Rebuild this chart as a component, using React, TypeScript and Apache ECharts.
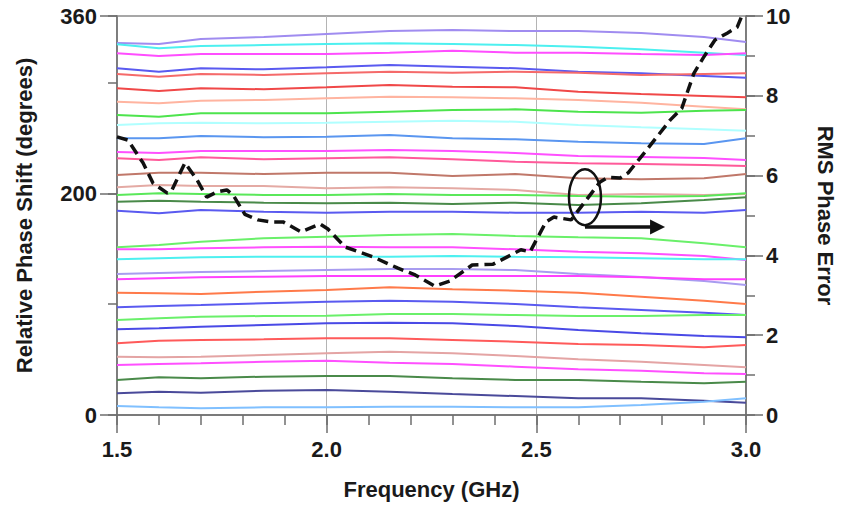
import React, { useEffect, useRef } from "react";
import * as echarts from "echarts";

// Frequencies (GHz) at which each phase state is sampled
const freqGHz = [1.5, 1.6, 1.7, 1.85, 2.0, 2.15, 2.3, 2.45, 2.6, 2.75, 2.9, 3.0];

// Relative phase shift (degrees) of each of the 32 phase states, top to bottom
const phaseStates: number[][] = [
  [335.6, 334.7, 339.2, 341.0, 343.7, 346.4, 347.3, 346.4, 346.4, 344.6, 341.0, 336.5],
  [334.5, 330.9, 333.0, 333.8, 334.7, 335.4, 334.7, 333.8, 332.3, 330.0, 326.9, 324.7],
  [326.3, 323.9, 325.7, 325.7, 325.7, 326.9, 328.7, 326.9, 326.9, 325.7, 324.8, 326.3],
  [312.8, 309.8, 312.8, 311.9, 313.7, 315.8, 314.3, 312.8, 309.8, 308.3, 305.9, 304.3],
  [307.7, 305.2, 307.7, 306.8, 308.3, 309.8, 308.9, 309.8, 308.9, 306.8, 307.7, 308.3],
  [294.8, 292.3, 294.8, 293.9, 295.7, 297.8, 296.2, 295.7, 291.7, 289.6, 287.8, 286.6],
  [282.7, 281.2, 283.6, 284.2, 285.7, 287.2, 286.6, 285.7, 284.2, 281.8, 278.2, 275.8],
  [270.7, 269.2, 272.2, 272.2, 272.2, 273.7, 275.2, 275.8, 273.7, 272.8, 274.6, 275.2],
  [261.7, 263.2, 263.7, 263.2, 263.7, 264.6, 265.5, 264.6, 261.7, 259.6, 257.8, 256.5],
  [249.7, 249.7, 251.7, 250.6, 251.1, 252.6, 249.7, 248.7, 246.6, 245.1, 244.5, 249.7],
  [237.3, 236.4, 238.2, 238.2, 238.2, 239.1, 238.2, 236.4, 233.7, 232.8, 231.9, 230.1],
  [231.6, 230.1, 232.5, 230.7, 231.6, 232.5, 230.7, 228.5, 227.1, 226.5, 225.6, 224.7],
  [216.5, 218.6, 218.6, 217.4, 218.6, 218.6, 215.6, 217.4, 213.6, 212.7, 213.6, 217.4],
  [205.5, 207.5, 206.6, 206.6, 204.5, 205.4, 204.5, 203.0, 198.5, 199.4, 198.5, 199.4],
  [198.5, 200.0, 199.4, 198.5, 198.5, 199.4, 198.5, 198.5, 197.6, 197.0, 197.6, 200.0],
  [192.5, 193.4, 192.5, 191.6, 191.0, 191.6, 190.4, 191.6, 189.5, 191.0, 194.0, 196.4],
  [184.3, 182.0, 185.0, 183.4, 182.5, 183.4, 183.4, 182.5, 182.5, 183.4, 182.5, 185.0],
  [151.3, 153.4, 156.4, 159.4, 160.9, 162.4, 163.3, 161.5, 160.3, 159.4, 154.9, 151.3],
  [149.5, 149.5, 150.4, 151.3, 151.9, 151.3, 151.3, 149.5, 147.3, 145.9, 143.5, 139.9],
  [140.5, 141.4, 142.3, 142.8, 142.8, 142.8, 143.5, 142.8, 142.3, 141.4, 140.5, 140.5],
  [127.2, 128.1, 129.0, 129.9, 130.8, 131.7, 131.7, 130.8, 127.2, 124.5, 120.9, 117.3],
  [122.4, 123.3, 124.2, 124.8, 125.4, 125.4, 125.4, 125.4, 125.4, 124.2, 122.4, 122.4],
  [110.3, 109.8, 109.2, 111.3, 112.8, 115.2, 113.4, 112.2, 110.3, 106.7, 103.1, 100.2],
  [97.2, 98.3, 99.2, 100.8, 102.2, 103.1, 102.2, 100.2, 97.2, 94.7, 92.3, 90.2],
  [85.7, 87.2, 88.7, 89.3, 89.6, 91.1, 91.1, 90.2, 89.3, 89.3, 90.2, 90.2],
  [77.3, 78.2, 79.7, 81.2, 82.7, 83.3, 82.7, 80.3, 76.7, 73.7, 71.3, 70.1],
  [64.7, 67.0, 67.7, 68.3, 69.2, 69.2, 67.7, 66.1, 64.1, 63.2, 61.1, 63.2],
  [52.6, 52.1, 52.6, 54.1, 55.7, 57.1, 55.7, 53.2, 50.3, 48.1, 45.1, 43.0],
  [45.1, 46.0, 46.6, 48.1, 49.0, 47.2, 46.0, 43.6, 41.2, 40.0, 37.6, 37.0],
  [31.6, 34.0, 33.1, 34.6, 35.2, 35.2, 33.1, 31.6, 31.6, 30.0, 28.6, 30.0],
  [19.6, 21.0, 20.1, 21.9, 22.6, 21.0, 18.9, 17.1, 15.1, 15.1, 12.9, 11.1],
  [8.1, 6.9, 6.0, 6.9, 6.9, 7.5, 7.5, 6.9, 6.9, 9.0, 12.0, 15.1],
];

const stateColors = [
  "#a08cf0", "#4df0f0", "#ff4dff", "#5a5af0", "#f56a6a", "#f04848", "#ffb4a0", "#4de44d",
  "#b0ffff", "#5a96f0", "#ff50ff", "#ff5a9a", "#c0786a", "#e4aaa4", "#5ae85a", "#4a8a4a",
  "#5a5af0", "#6af06a", "#ff50ff", "#4df0f0", "#a89cf0", "#ff40ff", "#ff7a4a", "#5a5af0",
  "#6af06a", "#4a4ae6", "#ff5a5a", "#e4a4a4", "#ff50ff", "#4a8a4a", "#4a4a9a", "#80c0ff",
];

// RMS phase error (degrees) versus frequency
const rmsFreqGHz = [
  1.5, 1.526, 1.562, 1.586, 1.62, 1.631, 1.662, 1.691, 1.714, 1.738, 1.762, 1.777, 1.805,
  1.836, 1.867, 1.896, 1.939, 1.984, 2.003, 2.044, 2.111, 2.17, 2.211, 2.258, 2.294, 2.347,
  2.397, 2.463, 2.485, 2.523, 2.542, 2.583, 2.652, 2.671, 2.7, 2.719, 2.759, 2.819, 2.847,
  2.876, 2.898, 2.926, 2.955, 2.979, 2.99,
];
const rmsError = [
  6.97, 6.89, 6.32, 5.81, 5.56, 5.64, 6.32, 5.89, 5.46, 5.59, 5.64, 5.51, 5.03,
  4.89, 4.84, 4.84, 4.59, 4.79, 4.66, 4.21, 3.96, 3.68, 3.51, 3.23, 3.36, 3.76,
  3.78, 4.14, 4.09, 4.84, 4.96, 4.89, 5.84, 5.96, 5.94, 6.07, 6.59, 7.39, 7.69,
  8.57, 8.95, 9.4, 9.57, 9.72, 10.0,
];

// Callout: ellipse around the RMS trace with an arrow pointing to the right axis
const calloutCenter = [2.616, 5.46];
const arrowStart = [2.616, 4.71];
const arrowEnd = [2.807, 4.71];

const FONT = "'Liberation Sans', Arial, sans-serif";
const AXIS_GRAY = "#6e6e6e";
const labelStyle = {
  fontFamily: FONT,
  fontWeight: "bold" as const,
  fontSize: 22,
  color: "#1a1a1a",
};

export default function App() {
  const ref = useRef<HTMLDivElement>(null);

  useEffect(() => {
    if (!ref.current) return;
    const chart = echarts.init(ref.current, undefined, { renderer: "svg" });

    const phaseSeries = phaseStates.map((vals, i) => ({
      type: "line",
      xAxisIndex: 0,
      yAxisIndex: 0,
      data: vals.map((v, j) => [freqGHz[j], v]),
      showSymbol: false,
      symbol: "none",
      silent: true,
      lineStyle: { color: stateColors[i], width: 2 },
      z: 2,
    }));

    const line = { show: true, lineStyle: { color: AXIS_GRAY, width: 1.5 } };

    chart.setOption({
      animation: false,
      grid: {
        left: 117,
        right: 95,
        top: 16,
        bottom: 97,
        outerBoundsMode: "none",
        show: true,
        borderColor: "#8a8a8a",
        borderWidth: 1.5,
      },
      xAxis: [
        {
          type: "value",
          position: "bottom",
          min: 1.5,
          max: 3.0,
          interval: 0.1,
          axisLine: line,
          axisTick: { show: true, inside: false, length: 10, lineStyle: { color: AXIS_GRAY, width: 1.5 } },
          axisLabel: { show: false },
          splitLine: { show: false },
        },
        {
          type: "value",
          position: "bottom",
          min: 1.5,
          max: 3.0,
          interval: 0.5,
          axisLine: { show: false },
          axisTick: { show: true, inside: false, length: 18, lineStyle: { color: AXIS_GRAY, width: 1.5 } },
          axisLabel: {
            ...labelStyle,
            margin: 23,
            formatter: (v: number) => v.toFixed(1),
          },
          splitLine: { show: true, lineStyle: { color: "#b4b4b4", width: 1 } },
          name: "Frequency (GHz)",
          nameLocation: "middle",
          nameGap: 63,
          nameTextStyle: labelStyle,
        },
      ],
      yAxis: [
        {
          type: "value",
          position: "left",
          min: 0,
          max: 360,
          interval: 100,
          axisLine: line,
          axisTick: { show: true, inside: false, length: 9, lineStyle: { color: AXIS_GRAY, width: 1.5 } },
          axisLabel: { show: false },
          splitLine: { show: false },
        },
        {
          type: "value",
          position: "left",
          min: 0,
          max: 360,
          interval: 200,
          axisLine: { show: false },
          axisTick: { show: true, inside: false, length: 17, lineStyle: { color: AXIS_GRAY, width: 1.5 } },
          axisLabel: { ...labelStyle, margin: 20, showMaxLabel: true, showMinLabel: true },
          splitLine: { show: false },
          name: "Relative Phase Shift (degrees)",
          nameLocation: "middle",
          nameRotate: 90,
          nameGap: 82,
          nameTextStyle: labelStyle,
        },
        {
          type: "value",
          position: "right",
          min: 0,
          max: 10,
          interval: 1,
          axisLine: line,
          axisTick: { show: true, inside: false, length: 9, lineStyle: { color: AXIS_GRAY, width: 1.5 } },
          axisLabel: { show: false },
          splitLine: { show: false },
        },
        {
          type: "value",
          position: "right",
          min: 0,
          max: 10,
          interval: 2,
          axisLine: { show: false },
          axisTick: { show: true, inside: false, length: 17, lineStyle: { color: AXIS_GRAY, width: 1.5 } },
          axisLabel: { ...labelStyle, margin: 20 },
          splitLine: { show: false },
          name: "RMS Phase Error",
          nameLocation: "middle",
          nameRotate: -90,
          nameGap: 68,
          nameTextStyle: labelStyle,
        },
      ],
      series: [
        ...phaseSeries,
        {
          type: "line",
          xAxisIndex: 0,
          yAxisIndex: 2,
          data: rmsFreqGHz.map((f, i) => [f, rmsError[i]]),
          showSymbol: false,
          symbol: "none",
          silent: true,
          lineStyle: { color: "#111111", width: 3.5, type: [11, 6] },
          z: 5,
        },
      ],
    });

    const toPx = (p: number[]) =>
      chart.convertToPixel({ xAxisIndex: 0, yAxisIndex: 2 }, p) as number[];
    const c = toPx(calloutCenter);
    const a0 = toPx(arrowStart);
    const a1 = toPx(arrowEnd);

    chart.setOption({
      graphic: [
        {
          type: "ellipse",
          shape: { cx: c[0], cy: c[1], rx: 16, ry: 28 },
          style: { fill: "none", stroke: "#111111", lineWidth: 2.5 },
          z: 10,
        },
        {
          type: "line",
          shape: { x1: a0[0], y1: a0[1], x2: a1[0] - 12, y2: a1[1] },
          style: { stroke: "#111111", lineWidth: 3.5 },
          z: 10,
        },
        {
          type: "polygon",
          shape: {
            points: [
              [a1[0] - 15, a1[1] - 7.5],
              [a1[0], a1[1]],
              [a1[0] - 15, a1[1] + 7.5],
            ],
          },
          style: { fill: "#111111" },
          z: 10,
        },
      ],
    });

    return () => chart.dispose();
  }, []);

  return (
    <div
      ref={ref}
      style={{ position: "fixed", left: 0, top: 0, width: 841, height: 512, background: "#ffffff" }}
    />
  );
}
